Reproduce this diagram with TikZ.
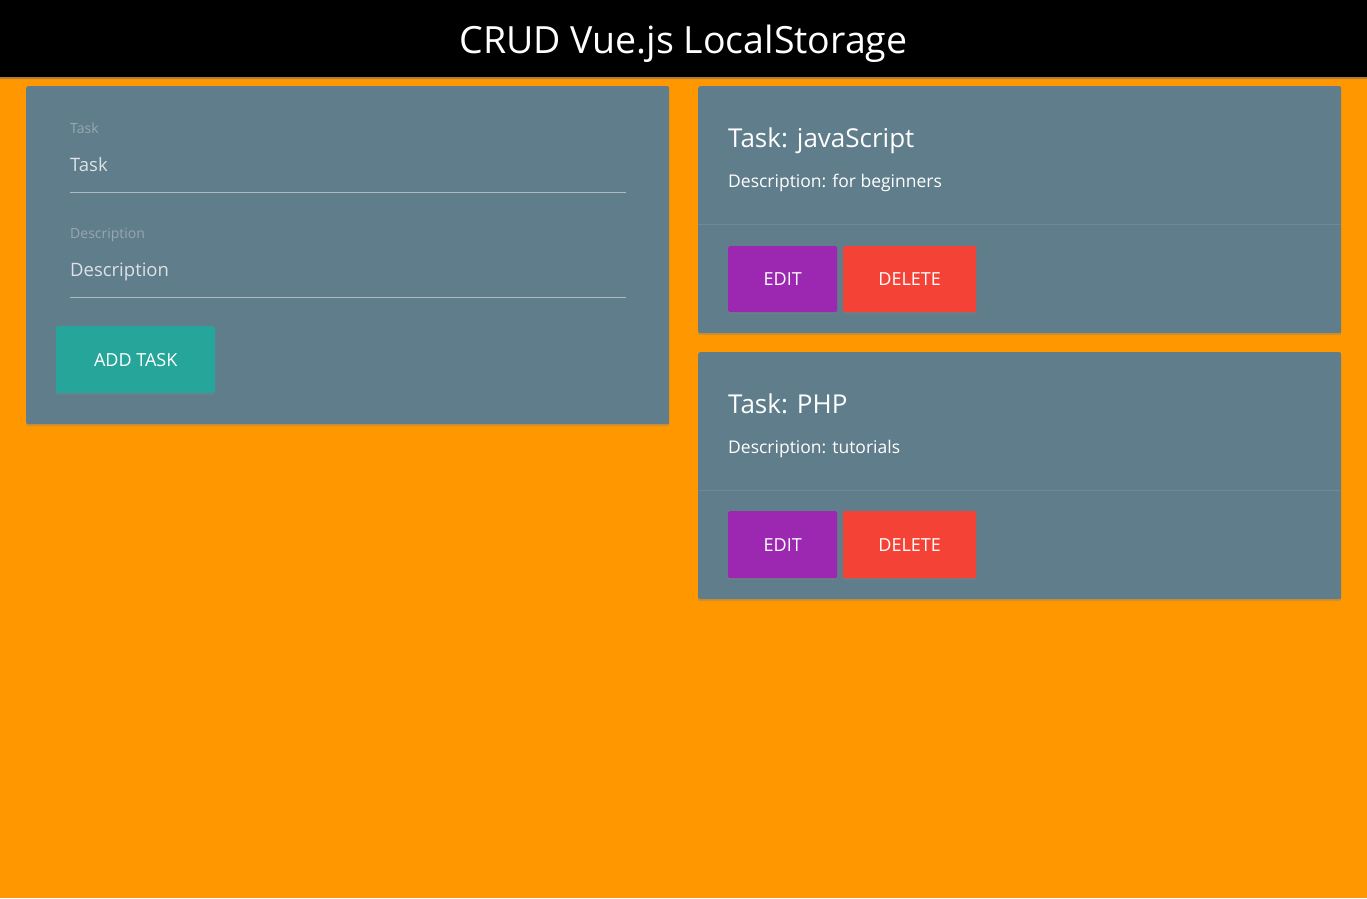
\documentclass[tikz,border=0pt]{standalone}
\usepackage{fontspec}
\setmainfont{Open Sans}
\usetikzlibrary{shadows}
\definecolor{bgorange}{HTML}{FF9800}
\definecolor{cardgray}{HTML}{607D8B}
\definecolor{teal}{HTML}{26A69A}
\definecolor{purp}{HTML}{9C27B0}
\definecolor{redbtn}{HTML}{F44336}
\definecolor{divline}{HTML}{6E8995}
\definecolor{inputline}{HTML}{AEBBC1}
\definecolor{lbltxt}{HTML}{97A8B0}
\definecolor{inptxt}{HTML}{DCE2E5}
\tikzset{
  card/.style={fill=cardgray, rounded corners=2pt, drop shadow={opacity=0.35, shadow xshift=0pt, shadow yshift=-2pt}},
  btn/.style={rounded corners=1.5pt, text=white, inner sep=0pt, font=\fontsize{18}{20}\selectfont, drop shadow={opacity=0.4, shadow xshift=0pt, shadow yshift=-2pt}},
  lbl/.style={anchor=base west, inner sep=0pt, text=lbltxt, font=\fontsize{14}{16}\selectfont},
  inp/.style={anchor=base west, inner sep=0pt, text=inptxt, font=\fontsize{18.5}{22}\selectfont},
  ttl/.style={anchor=base west, inner sep=0pt, text=white, font=\fontsize{26}{30}\selectfont},
  dsc/.style={anchor=base west, inner sep=0pt, text=white, font=\fontsize{17.5}{21}\selectfont},
}
\begin{document}
\begin{tikzpicture}[x=1pt,y=-1pt]
\useasboundingbox (0,0) rectangle (1367,898);
\fill[bgorange] (0,0) rectangle (1367,898);
% header
\fill[black!60, opacity=0.5] (0,76) rectangle (1367,79);
\fill[black] (0,0) rectangle (1367,76.5);
\node[inner sep=0pt, anchor=base, text=white, font=\fontsize{37.5}{44}\selectfont] (title) at (683.5,53) {CRUD Vue.js LocalStorage};
% left card
\node[card, minimum width=643pt, minimum height=338pt, anchor=north west, inner sep=0pt] (form) at (26,86) {};
\node[lbl] (lbltask) at (70,133) {Task};
\node[inp] (inptask) at (70,171) {Task};
\coordinate (l1a) at (70,192.5);
\coordinate (l1b) at (626,192.5);
\draw[inputline, line width=1pt] (l1a) -- (l1b);
\node[lbl] (lbldesc) at (70,238) {Description};
\node[inp] (inpdesc) at (70,276) {Description};
\coordinate (l2a) at (70,297.5);
\coordinate (l2b) at (626,297.5);
\draw[inputline, line width=1pt] (l2a) -- (l2b);
\node[btn, fill=teal, minimum width=159pt, minimum height=67pt, anchor=north west] (add) at (56,326) {ADD TASK};
% right card 1
\node[card, minimum width=643pt, minimum height=247pt, anchor=north west, inner sep=0pt] (c1) at (698,86) {};
\node[ttl] (t1) at (728,147) {Task: javaScript};
\node[dsc] (d1) at (728,187) {Description: for beginners};
\coordinate (dv1a) at (698,224.5);
\coordinate (dv1b) at (1341,224.5);
\draw[divline, line width=1pt] (dv1a) -- (dv1b);
\node[btn, fill=purp, minimum width=109pt, minimum height=66pt, anchor=north west] (e1) at (728,246) {EDIT};
\node[btn, fill=redbtn, minimum width=133pt, minimum height=66pt, anchor=north west] (x1) at (843,246) {DELETE};
% right card 2
\node[card, minimum width=643pt, minimum height=247pt, anchor=north west, inner sep=0pt] (c2) at (698,352) {};
\node[ttl] (t2) at (728,413) {Task: PHP};
\node[dsc] (d2) at (728,453) {Description: tutorials};
\coordinate (dv2a) at (698,490.5);
\coordinate (dv2b) at (1341,490.5);
\draw[divline, line width=1pt] (dv2a) -- (dv2b);
\node[btn, fill=purp, minimum width=109pt, minimum height=67pt, anchor=north west] (e2) at (728,511) {EDIT};
\node[btn, fill=redbtn, minimum width=133pt, minimum height=67pt, anchor=north west] (x2) at (843,511) {DELETE};
\end{tikzpicture}
\end{document}
